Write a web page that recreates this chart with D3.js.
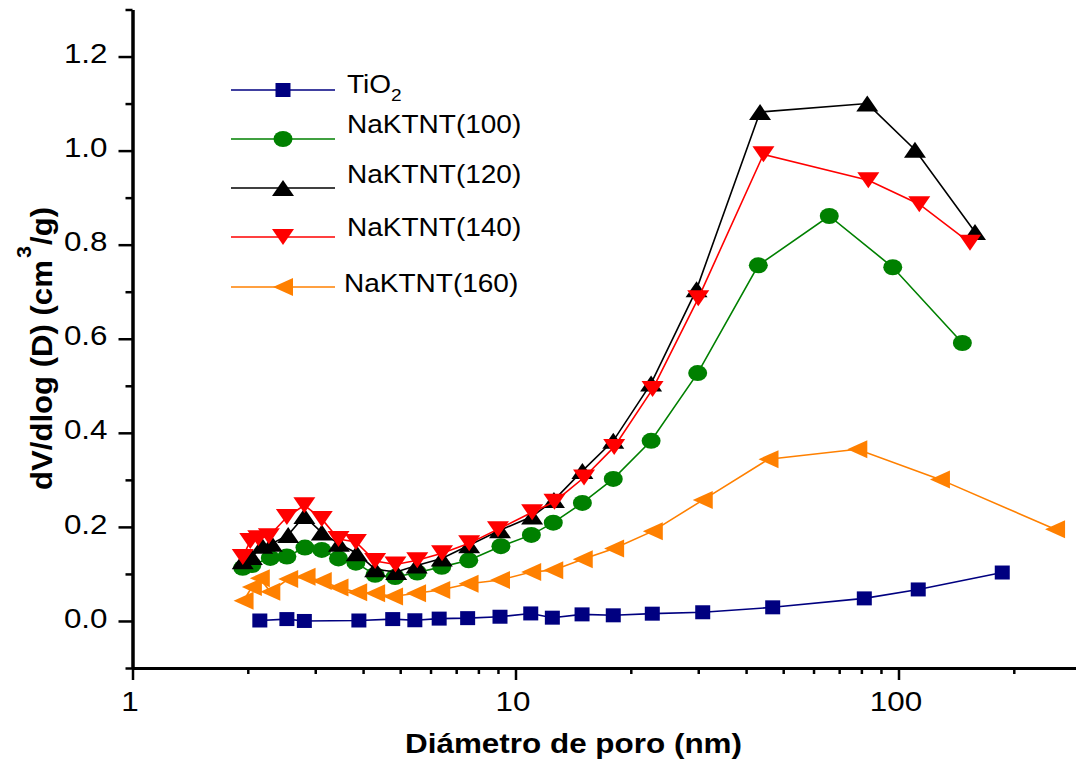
<!DOCTYPE html>
<html>
<head>
<meta charset="utf-8">
<script src="https://cdn.jsdelivr.net/npm/d3@7"></script>
<style>
body { margin: 0; background: #fff; }
text { font-family: "Liberation Sans", Arial, sans-serif; fill: #000; }
</style>
</head>
<body>
<svg id="chart" width="1076" height="761"></svg>
<script>
// ---- data ----
const seriesNames = ["TiO2", "NaKTNT(100)", "NaKTNT(120)", "NaKTNT(140)", "NaKTNT(160)"]

const tio2D = [2.15, 2.53, 2.81, 3.90, 4.78, 5.46, 6.32, 7.50, 9.11, 10.96, 12.48, 14.92, 18.0, 22.76, 30.82, 46.94, 81.42, 112.6, 186.6]
const tio2V = [0.001, 0.004, 0.000, 0.001, 0.004, 0.0015, 0.005, 0.006, 0.009, 0.016, 0.007, 0.014, 0.012, 0.0155, 0.0185, 0.029, 0.048, 0.067, 0.103]

const n100D = [1.94, 2.05, 2.29, 2.53, 2.82, 3.12, 3.45, 3.83, 4.30, 4.85, 5.54, 6.42, 7.55, 9.16, 11.0, 12.55, 14.95, 18.0, 22.6, 29.9, 43.05, 65.96, 96.6, 146.8]
const n100V = [0.113, 0.119, 0.134, 0.137, 0.156, 0.151, 0.133, 0.124, 0.098, 0.0935, 0.103, 0.115, 0.129, 0.159, 0.183, 0.209, 0.251, 0.302, 0.383, 0.527, 0.756, 0.861, 0.752, 0.591]

const n120D = [1.94, 2.05, 2.18, 2.31, 2.55, 2.81, 3.12, 3.46, 3.85, 4.30, 4.88, 5.52, 6.42, 7.57, 9.11, 11.05, 12.6, 14.95, 18.0, 22.6, 29.7, 43.5, 82.9, 110.4, 158.4]
const n120V = [0.127, 0.136, 0.160, 0.164, 0.183, 0.223, 0.188, 0.164, 0.144, 0.110, 0.104, 0.118, 0.133, 0.161, 0.193, 0.222, 0.257, 0.319, 0.383, 0.505, 0.705, 1.082, 1.100, 1.002, 0.827]

const n140D = [1.94, 2.03, 2.13, 2.27, 2.53, 2.81, 3.12, 3.45, 3.83, 4.30, 4.86, 5.54, 6.43, 7.57, 9.0, 11.05, 12.64, 15.1, 18.1, 22.8, 30.0, 44.4, 83.4, 113.3, 153.7]
const n140V = [0.136, 0.170, 0.176, 0.180, 0.221, 0.246, 0.217, 0.174, 0.168, 0.1275, 0.120, 0.129, 0.144, 0.165, 0.195, 0.231, 0.2535, 0.305, 0.370, 0.493, 0.686, 0.992, 0.937, 0.886, 0.804]

const n160D = [1.95, 2.05, 2.15, 2.29, 2.55, 2.83, 3.12, 3.45, 3.86, 4.30, 4.79, 5.50, 6.36, 7.54, 9.11, 10.99, 12.55, 14.98, 18.09, 22.83, 30.82, 45.77, 78.06, 128.3, 256.3]
const n160V = [0.043, 0.072, 0.091, 0.062, 0.089, 0.094, 0.085, 0.071, 0.061, 0.059, 0.052, 0.059, 0.066, 0.079, 0.087, 0.104, 0.108, 0.131, 0.154, 0.191, 0.257, 0.344, 0.365, 0.301, 0.195]

const xMajor = [1, 10, 100]
const xTickLabels = ["1", "10", "100"]
const xMinor = [2, 3, 4, 5, 6, 7, 8, 9, 20, 30, 40, 50, 60, 70, 80, 90, 200]
const yMajor = [0, 0.2, 0.4, 0.6, 0.8, 1.0, 1.2]
const yTickLabels = ["0.0", "0.2", "0.4", "0.6", "0.8", "1.0", "1.2"]
const yMinor = [-0.1, 0.1, 0.3, 0.5, 0.7, 0.9, 1.1, 1.3]

// ---- style ----
const COLORS = ["#000080", "#008000", "#000000", "#FF0000", "#FF8000"]
const SHAPES = ["square", "circle", "up", "down", "left"]
const TEXT_STRETCH = 1.12

const SYMBOLS = {
    square: "M-7.5,-7H7.5V7H-7.5Z",
    circle: "M-9.5,0A9.5,8 0 1,0 9.5,0A9.5,8 0 1,0 -9.5,0Z",
    up: "M0,-8L11,8L-11,8Z",
    down: "M-11,-8L11,-8L0,8Z",
    left: "M-10,0L10,-9L10,9Z"
}

const svg = d3.select("#chart")

const x = d3.scaleLog()
    .domain([1, 290])
    .range([132.5, 132.5 + 383 * Math.log10(290)])

const y = d3.scaleLinear()
    .domain([-0.1, 1.3])
    .range([668, 9.5])

function stretch(sel, k) {
    sel.each(function () {
        const w = this.getComputedTextLength()
        d3.select(this).attr("textLength", w * k).attr("lengthAdjust", "spacingAndGlyphs")
    })
}

// ---- axes ----
function styleAxis(g) {
    g.select(".domain").attr("stroke-width", 3)
    g.selectAll(".tick line").attr("stroke-width", 2.5)
    g.selectAll("text").attr("font-size", 28).style("font-family", '"Liberation Sans", Arial, sans-serif')
}

svg.append("g")
    .attr("transform", `translate(0,${y(-0.1)})`)
    .call(d3.axisBottom(x).tickValues(xMinor).tickSize(6).tickSizeOuter(0).tickFormat(""))
    .call(styleAxis)

let xAxis = svg.append("g")
    .attr("transform", `translate(0,${y(-0.1)})`)
    .call(d3.axisBottom(x).tickValues(xMajor).tickSize(12).tickPadding(11).tickSizeOuter(0)
        .tickFormat((d, i) => xTickLabels[i]))
    .call(styleAxis)
xAxis.selectAll("text").attr("dx", -3)
stretch(xAxis.selectAll("text"), TEXT_STRETCH)

svg.append("g")
    .attr("transform", `translate(${x(1)},0)`)
    .call(d3.axisLeft(y).tickValues(yMinor).tickSize(7).tickSizeOuter(0).tickFormat(""))
    .call(styleAxis)

let yAxis = svg.append("g")
    .attr("transform", `translate(${x(1)},0)`)
    .call(d3.axisLeft(y).tickValues(yMajor).tickSize(14).tickPadding(11).tickSizeOuter(0)
        .tickFormat((d, i) => yTickLabels[i]))
    .call(styleAxis)
yAxis.selectAll("text").attr("dy", "0.22em")
stretch(yAxis.selectAll("text"), TEXT_STRETCH)

// ---- axis titles ----
svg.append("text")
    .attr("x", 573.5)
    .attr("y", 753)
    .attr("text-anchor", "middle")
    .attr("font-size", 28)
    .attr("font-weight", "bold")
    .attr("textLength", 337)
    .attr("lengthAdjust", "spacingAndGlyphs")
    .text("Diámetro de poro (nm)")

let yTitle = svg.append("text")
    .attr("transform", "translate(52,348.5) rotate(-90)")
    .attr("text-anchor", "middle")
    .attr("font-size", 29)
    .attr("font-weight", "bold")
    .attr("textLength", 283)
    .attr("lengthAdjust", "spacingAndGlyphs")
yTitle.append("tspan").text("dV/dlog (D) (cm")
yTitle.append("tspan").attr("dy", -21).attr("dx", 2).attr("font-size", 20).text("3")
yTitle.append("tspan").attr("dy", 21).attr("dx", 1).text("/g)")

// ---- series ----
const allD = [tio2D, n100D, n120D, n140D, n160D]
const allV = [tio2V, n100V, n120V, n140V, n160V]

let line = d3.line()
    .x(d => x(d[0]))
    .y(d => y(d[1]))

seriesNames.forEach((name, s) => {
    let pts = allD[s].map((d, i) => [d, allV[s][i]])
    let g = svg.append("g")

    g.append("path")
        .datum(pts)
        .attr("fill", "none")
        .attr("stroke", COLORS[s])
        .attr("stroke-width", 1.6)
        .attr("d", line)

    g.selectAll(".pt")
        .data(pts)
        .enter()
        .append("path")
        .classed("pt", true)
        .attr("d", SYMBOLS[SHAPES[s]])
        .attr("fill", COLORS[s])
        .attr("transform", d => `translate(${x(d[0])},${y(d[1])})`)
})

// ---- legend ----
const legendRowY = [90, 139, 188, 237, 287]
const legendTextY = [93, 133, 183, 236, 292]
const legendTextX = [347, 347, 347, 347, 344]

let legend = svg.append("g")

seriesNames.forEach((name, s) => {
    legend.append("line")
        .attr("x1", 231).attr("x2", 335)
        .attr("y1", legendRowY[s]).attr("y2", legendRowY[s])
        .attr("stroke", COLORS[s])
        .attr("stroke-width", 1.6)

    legend.append("path")
        .attr("d", SYMBOLS[SHAPES[s]])
        .attr("fill", COLORS[s])
        .attr("transform", `translate(283,${legendRowY[s]})`)

    let t = legend.append("text")
        .attr("x", legendTextX[s])
        .attr("y", legendTextY[s])
        .attr("font-size", 25)

    if (name == "TiO2") {
        t.append("tspan").text("TiO")
        t.append("tspan").attr("dy", 8).attr("font-size", 17).text("2")
    } else {
        t.text(name)
    }
    stretch(t, TEXT_STRETCH)
})
</script>
</body>
</html>
